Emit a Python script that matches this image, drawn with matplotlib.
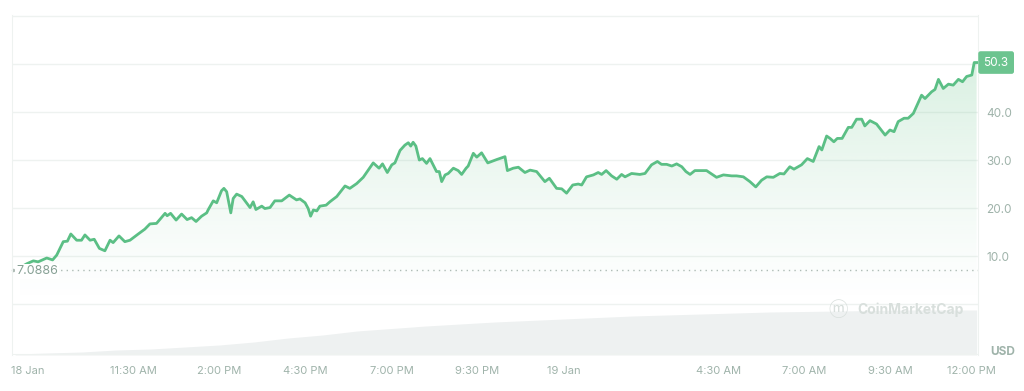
import numpy as np
import matplotlib
matplotlib.use('Agg')
import matplotlib.pyplot as plt
from matplotlib.patches import Polygon

plt.rcParams['font.family'] = ['Inter', 'DejaVu Sans']

# hours since 18 Jan 00:00
hours = [8.20, 8.40, 8.59, 8.73, 8.98, 9.15, 9.27, 9.46, 9.58, 9.68, 9.85, 9.99, 10.09, 10.24,
         10.36, 10.51, 10.67, 10.82, 10.91, 11.08, 11.25, 11.40, 11.64, 11.83, 11.98, 12.17,
         12.42, 12.48, 12.58, 12.74, 12.90, 13.06, 13.19, 13.32, 13.48, 13.63, 13.67, 13.82,
         13.92, 14.06, 14.13, 14.21, 14.33, 14.40, 14.50, 14.65, 14.89, 14.98, 15.06, 15.23,
         15.32, 15.47, 15.61, 15.81, 16.03, 16.24, 16.34, 16.49, 16.58, 16.65, 16.73, 16.83,
         16.92, 17.10, 17.21, 17.41, 17.65, 17.79, 17.99, 18.18, 18.47, 18.64, 18.74, 18.88,
         19.01, 19.10, 19.25, 19.39, 19.49, 19.56, 19.63, 19.71, 19.81, 19.90, 20.02, 20.12,
         20.31, 20.39, 20.46, 20.56, 20.65, 20.80, 20.94, 21.04, 21.17, 21.23, 21.38, 21.48,
         21.62, 21.80, 21.91, 22.06, 22.30, 22.37, 22.54, 22.69, 22.88, 23.03, 23.22, 23.46,
         23.59, 23.80, 23.95, 24.09, 24.27, 24.43, 24.53, 24.67, 24.87, 25.01, 25.11, 25.24,
         25.40, 25.55, 25.69, 25.79, 25.98, 26.22, 26.37, 26.56, 26.73, 26.85, 27.00, 27.15,
         27.29, 27.44, 27.56, 27.68, 27.82, 28.16, 28.45, 28.65, 28.89, 29.03, 29.23, 29.42,
         29.59, 29.76, 29.91, 30.10, 30.29, 30.41, 30.58, 30.70, 30.92, 31.09, 31.26, 31.43,
         31.51, 31.65, 31.75, 31.86, 31.96, 32.10, 32.28, 32.38, 32.52, 32.67, 32.76, 32.91,
         33.10, 33.35, 33.49, 33.61, 33.73, 33.90, 34.02, 34.17, 34.41, 34.51, 34.70, 34.80,
         34.90, 35.04, 35.19, 35.33, 35.48, 35.60, 35.72, 35.87, 35.94, 36.01]
prices = [7.6, 8.4, 9.0, 8.8, 9.6, 9.2, 10.2, 13.0, 13.1, 14.6, 13.3, 13.3, 14.4, 13.3,
          13.5, 11.6, 11.1, 13.3, 12.8, 14.2, 13.0, 13.3, 14.6, 15.6, 16.7, 16.8,
          18.9, 18.4, 18.9, 17.5, 18.75, 17.6, 18.0, 17.2, 18.3, 19.0, 19.6, 21.5,
          21.1, 23.6, 24.1, 23.4, 19.0, 22.0, 22.9, 22.4, 20.1, 21.3, 19.7, 20.4,
          19.9, 20.1, 21.5, 21.5, 22.7, 21.7, 21.9, 21.1, 19.9, 18.3, 19.6, 19.4,
          20.4, 20.6, 21.3, 22.4, 24.6, 24.1, 25.1, 26.4, 29.4, 28.3, 29.2, 27.4,
          29.0, 29.4, 32.0, 33.1, 33.6, 32.9, 33.7, 32.9, 30.0, 30.3, 29.3, 30.3,
          27.6, 27.6, 25.5, 26.9, 27.2, 28.3, 27.8, 27.0, 28.3, 28.75, 31.4, 30.6,
          31.5, 29.4, 29.7, 30.1, 30.7, 27.8, 28.3, 28.5, 27.4, 27.9, 27.6, 25.5,
          26.2, 24.1, 24.0, 23.1, 24.8, 25.0, 24.8, 26.5, 26.9, 27.4, 27.0, 27.8,
          26.7, 26.0, 27.0, 26.5, 27.2, 27.0, 27.2, 29.0, 29.7, 29.1, 29.1, 28.75,
          29.2, 28.6, 27.6, 27.0, 27.8, 27.8, 26.4, 26.9, 26.7, 26.7, 26.5, 25.5,
          24.4, 25.8, 26.5, 26.4, 27.2, 27.1, 28.6, 28.1, 29.0, 30.3, 29.7, 32.8,
          32.1, 35.0, 34.5, 33.8, 34.5, 34.5, 36.8, 36.8, 38.5, 38.5, 37.1, 38.2,
          37.5, 35.2, 36.25, 35.9, 38.0, 38.7, 38.7, 39.7, 43.5, 42.8, 44.2, 44.7,
          46.8, 44.9, 45.8, 45.6, 46.8, 46.3, 47.4, 47.7, 50.3, 50.3]

vol_hours = [8.06, 9, 10, 11, 12, 13, 14, 15, 16, 17, 18, 20, 22, 24, 26, 28, 30, 32, 34, 36.01]
volume = [1, 2, 3, 5, 6, 8, 10, 13, 17, 20, 24, 29, 33, 36, 39, 41, 43, 44, 45, 45]

open_price = 7.0886
last_price = 50.3
y_ticks = [10, 20, 30, 40]
grid_levels = [0, 10, 20, 30, 40, 50, 60]
x_tick_pos = [8.43, 11.5, 14, 16.5, 19, 21.5, 24, 28.5, 31, 33.5, 35.85]
x_tick_labels = ['18 Jan', '11:30 AM', '2:00 PM', '4:30 PM', '7:00 PM', '9:30 PM',
                 '19 Jan', '4:30 AM', '7:00 AM', '9:30 AM', '12:00 PM']

green = '#5bbf85'
label_c = '#9fb3aa'
grid_c = '#eef2f0'

fig = plt.figure(figsize=(10.24, 3.91), dpi=100)
ax = fig.add_axes([12 / 1024, 36 / 391, 966 / 1024, 340 / 391])
ax2 = ax.twinx()
ax.set_zorder(ax2.get_zorder() + 1)
ax.patch.set_visible(False)

xmin, xmax = 7.97, 36.05
ymin, ymax = -10.6, 60.2

# volume area
ax2.fill_between(vol_hours, 0, volume, color='#eef1f1', lw=0)
ax2.set_ylim(0, 340)
ax2.axis('off')

# grid
for g in grid_levels:
    ax.axhline(g, color=grid_c, lw=1, zorder=0)

# gradient fill under the price line
xs = np.array(hours)
ys = np.array(prices)
verts = np.vstack([np.column_stack([xs, ys]), [[xs[-1], 0], [xs[0], 0]]])
poly = Polygon(verts, closed=True, facecolor='none', edgecolor='none')
ax.add_patch(poly)
n = 256
alpha = np.linspace(0.0, 0.30, n) ** 1.2
grad = np.zeros((n, 2, 4))
grad[..., 0] = 92 / 255
grad[..., 1] = 190 / 255
grad[..., 2] = 130 / 255
grad[..., 3] = alpha[:, None]
im = ax.imshow(grad, extent=[xmin, xmax, 0, 52], origin='lower', aspect='auto', zorder=1)
im.set_clip_path(poly)

ax.plot(hours, prices, color=green, lw=2, zorder=3, solid_joinstyle='round')

# open price reference
ax.axhline(open_price, xmin=0.045, color='#aebbb5', lw=1, ls=(0, (1, 3)), zorder=2)
ax.plot([xmin + 0.02], [open_price], 'o', color='#aebbb5', ms=1.5, zorder=2, clip_on=False)
ax.text(xmin + 0.12, open_price - 0.3, '%.4f' % open_price, color='#86a094', fontsize=9,
        va='center', ha='left', zorder=4,
        bbox=dict(boxstyle='square,pad=0.1', fc='white', ec='none'))

ax.set_xlim(xmin, xmax)
ax.set_ylim(ymin, ymax)

for s in ['top', 'bottom']:
    ax.spines[s].set_visible(False)
ax.spines['left'].set_color(grid_c)
ax.spines['right'].set_color(grid_c)
ax.axhline(ymin, color=grid_c, lw=1.5)

ax.yaxis.tick_right()
ax.set_yticks(y_ticks)
ax.set_yticklabels(['%.1f' % v for v in y_ticks])
ax.tick_params(axis='y', length=0, pad=6, labelsize=8.5, labelcolor=label_c)
ax.set_xticks(x_tick_pos)
ax.set_xticklabels(x_tick_labels)
ax.tick_params(axis='x', length=0, pad=8, labelsize=8, labelcolor=label_c)

# last price badge
ax.annotate('%.1f' % last_price, xy=(1, last_price), xycoords=('axes fraction', 'data'),
            xytext=(4, 0), textcoords='offset points', ha='left', va='center',
            fontsize=8.5, color='white',
            bbox=dict(boxstyle='round,pad=0.45,rounding_size=0.2', fc='#6cc48f', ec='none'))

fig.text(990 / 1024, 1 - 352 / 391, 'USD', fontsize=8.5, fontweight='bold', color=label_c,
         ha='left', va='center')

# watermark
fig.text(838 / 1024, 1 - 310 / 391, '\u24dc', fontsize=14, color='#d8dfdc', ha='center',
         va='center', family=['Noto Sans CJK JP', 'DejaVu Sans'])
fig.text(857 / 1024, 1 - 310 / 391, 'CoinMarketCap', fontsize=10, fontweight='bold',
         color='#d8dfdc', ha='left', va='center')

fig.savefig('out.png', dpi=100)
